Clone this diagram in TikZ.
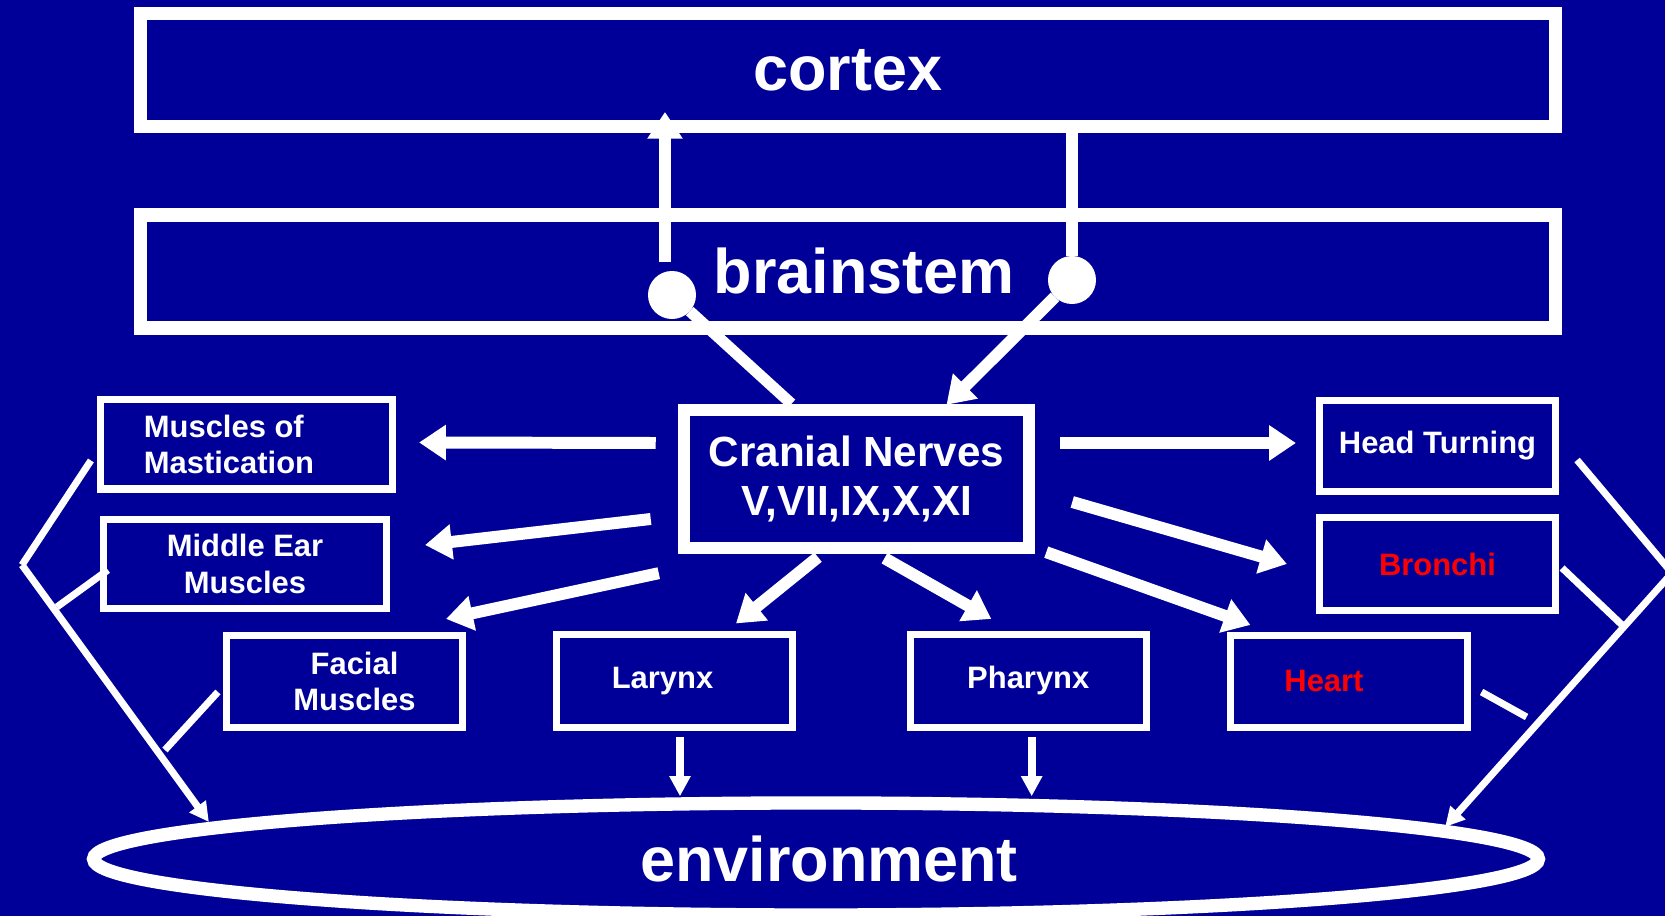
\documentclass[tikz,border=0pt]{standalone}
\usepackage{fontspec}
\setmainfont{Liberation Sans}
\usepackage{tikz}
\usetikzlibrary{shapes.geometric,arrows.meta}
\definecolor{slideblue}{RGB}{0,0,153}

\begin{document}
\begin{tikzpicture}[x=0.01cm,y=-0.01cm,
  bigbox/.style={draw=white,line width=3.8pt,minimum width=14.14cm,minimum height=1.13cm,
    text=white,font=\bfseries\fontsize{17.9}{20}\selectfont},
  organ/.style={draw=white,line width=2pt,minimum width=2.36cm,minimum height=0.92cm,
    inner sep=0pt,text=white,align=center,font=\bfseries\fontsize{8.8}{10.4}\selectfont},
  nervebox/.style={draw=white,line width=3.5pt,minimum width=3.45cm,minimum height=1.38cm,
    text=white,align=center,font=\bfseries\fontsize{12}{14.2}\selectfont},
  nucleus/.style={circle,fill=white,minimum size=0.48cm,inner sep=0pt,outer sep=0pt},
  fat/.style={white,line width=3.4pt,-{Triangle[width=9.6pt,length=7.6pt]}},
  fatline/.style={white,line width=3.2pt},
  slim/.style={white,line width=2.3pt,-{Triangle[width=5.7pt,length=5.7pt]}},
  bracket/.style={white,line width=2pt},
  bracketarrow/.style={white,line width=2pt,-{Triangle[width=5.5pt,length=5.5pt]}}]

  \useasboundingbox (0,0) rectangle (1665,916);
  \clip (0,0) rectangle (1665,916);
  \fill[slideblue] (0,0) rectangle (1665,916);

  \node[bigbox] (cortex) at (848,70) {cortex};
  \node[bigbox] (brainstem) at (848,271.5) {\hspace*{0.32cm}brainstem};
  \node[nucleus] (ldot) at (672,295) {};
  \node[nucleus] (rdot) at (1072,280) {};

  \node[nervebox] (cn) at (856.5,479) {Cranial Nerves\\V,VII,IX,X,XI};

  \node[organ,minimum width=2.92cm,minimum height=0.89cm,align=left] (mast) at (246.5,444.5)
    {Muscles of\\Mastication\hspace*{0.35cm}};
  \node[organ,minimum width=2.83cm,minimum height=0.89cm] (mid) at (245,564) {Middle Ear\\Muscles};
  \node[organ] (facial) at (344.5,681.5) {\hspace*{0.2cm}Facial\\\hspace*{0.2cm}Muscles};
  \node[organ] (larynx) at (674.5,681) {Larynx\hspace*{0.24cm}};
  \node[organ] (pharynx) at (1028.3,681) {Pharynx};
  \node[organ,minimum height=0.91cm] (head) at (1437.5,446) {Head Turning};
  \node[organ,minimum height=0.93cm,text=red] (bronchi) at (1437.5,564) {Bronchi};
  \node[organ,text=red] (heart) at (1349,681.5) {Heart\hspace*{0.5cm}};

  \node[ellipse,draw=white,line width=3.8pt,minimum width=14.44cm,minimum height=1.12cm,inner sep=0pt,
    text=white,font=\bfseries\fontsize{17.9}{20}\selectfont] (env) at (816,859) {\hspace*{0.26cm}environment};

  % brainstem <-> cortex
  \draw[fat] ([xshift=-0.07cm]ldot.north) ++(0,-9) -- ++(0,-150);
  \draw[fatline] (rdot |- cortex.south) -- (rdot);
  \draw[fatline] (ldot) -- ([xshift=-0.65cm]cn.north);
  \draw[fat] (rdot) -- ([shift={(90,1)}]cn.north);

  % cranial nerves -> effectors
  \draw[fat] ([shift={(-22,-36)}]cn.west) -- ([shift={(23,-2)}]mast.east);
  \draw[fat] ([shift={(-27,40)}]cn.west) -- ([shift={(35,-19)}]mid.east);
  \draw[fat] ([shift={(-19,19)}]cn.south west) -- ([shift={(-20,-13)}]facial.north east);
  \draw[fat] ([shift={(-38.5,3)}]cn.south) -- ([shift={(61.5,-8)}]larynx.north);
  \draw[fat] ([shift={(28,4)}]cn.south) -- ([shift={(-37,-12.5)}]pharynx.north);
  \draw[fat] ([shift={(25,-36)}]cn.east) -- ([shift={(-20,-3)}]head.west);
  \draw[fat] ([shift={(37,23)}]cn.east) -- ([shift={(-29,0)}]bronchi.west);
  \draw[fat] ([shift={(11,-2)}]cn.south east) -- ([shift={(23,-7)}]heart.north west);

  % effectors -> environment
  \draw[slim,shorten <=0.06cm] ([xshift=0.055cm]larynx.south) -- ([xshift=0.055cm]larynx.south |- env.north);
  \draw[slim,shorten <=0.06cm] ([xshift=0.034cm]pharynx.south) -- ([xshift=0.034cm]pharynx.south |- env.north);

  \coordinate (lapex) at (22,565);
  \draw[bracket] ([shift={(-6,16)}]mast.west) -- (lapex);
  \draw[bracketarrow] (lapex) -- ([shift={(122,-37)}]env.west);
  \draw[bracket] ([shift={(8,6)}]mid.west) -- ++(-51,37);
  \draw[bracket] ([shift={(-5,10.5)}]facial.west) -- ++(-53,58);

  \coordinate (rapex) at (1672,573);
  \draw[bracket] ([shift={(18,14)}]head.east) -- (rapex);
  \draw[bracketarrow] (rapex) -- ([shift={(-100,-32)}]env.east);
  \draw[bracket] ([shift={(3,4)}]bronchi.east) -- ++(60,57);
  \draw[bracket] ([shift={(11,10.5)}]heart.east) -- ++(45,25);
\end{tikzpicture}
\end{document}
